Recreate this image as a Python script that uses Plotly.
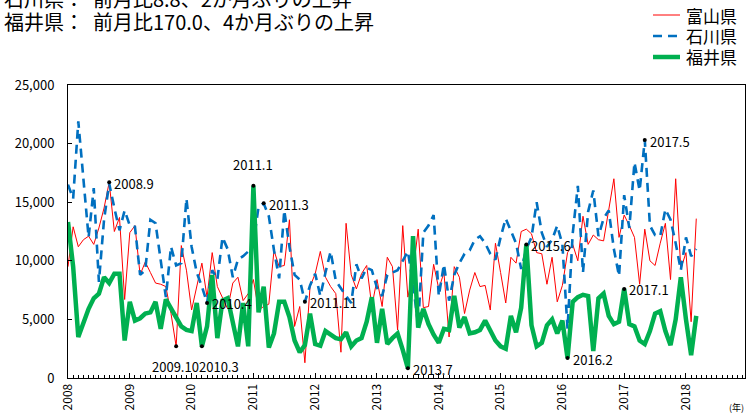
import plotly.graph_objects as go

# Monthly data, Jan 2008 .. Mar 2018 (123 months)
start_year = 2008
toyama = [9500, 12900, 11200, 11800, 12100, 11400, 12800, 14500, 16700, 12500, 13700, 6700,
          12400, 13000, 8800, 9900, 9000, 8100, 8000, 7800, 5500, 2700, 11300, 9200,
          5800, 7800, 9800, 6900, 10700, 7800, 6800, 5900, 8100, 8600, 6600, 7200,
          8400, 5800, 6100, 6300, 10900, 9500, 9600, 13500, 4400, 6100, 1300, 7800,
          8900, 10800, 8600, 7800, 7200, 2200, 13200, 8800, 7600, 8900, 9600, 6100,
          8400, 6100, 10300, 9500, 4100, 13000, 6900, 9000, 12700, 6000, 6100, 9700,
          7600, 9000, 3500, 9500, 8600, 5500, 7500, 9000, 7800, 7900, 5800, 11500,
          9000, 6400, 10300, 9800, 12500, 12700, 12300, 10700, 10600, 8000, 10300, 6500,
          7900, 10700, 11400, 10000, 13800, 11400, 12200, 11800, 11700, 14500, 17000, 12000,
          13900, 13000, 12000, 8000, 12700, 10000, 9600, 11500, 13200, 8400, 17000, 9300,
          10700, 4800, 13600]
ishikawa = [16500, 15300, 21900, 17000, 12000, 16200, 8200, 13500, 16600, 14500, 12600, 14300,
            13000, 12900, 8800, 9200, 13500, 13200, 9800, 6900, 11200, 9600, 9800, 15300,
            11200, 9000, 7800, 6400, 9200, 8400, 12000, 11000, 8600, 10100, 10400, 10800,
            11500, 14600, 14900, 13800, 10900, 8500, 14300, 11200, 8800, 8400, 6500, 7900,
            8900, 7000, 9000, 10800, 8300, 7600, 7000, 6400, 9700, 8500, 9400, 9200,
            7700, 7000, 8800, 9000, 9200, 10000, 10800, 8000, 4500, 12400, 13000, 13900,
            7000, 9700, 6600, 8800, 9800, 10600, 10900, 11800, 12100, 11500, 10600, 10100,
            12000, 13600, 12600, 11500, 9300, 11000, 12000, 15000, 12400, 11200, 11800, 13000,
            11400, 4200, 12300, 16400, 9000, 14200, 16000, 12100, 13600, 14300, 11000, 8700,
            15600, 12800, 18400, 16000, 20300, 13000, 12200, 12100, 14400, 13500, 11500, 9200,
            12000, 10400, 11000]
fukui = [13300, 9500, 3500, 4800, 5900, 6800, 7200, 8600, 8100, 8900, 8900, 3200,
         6500, 4900, 5100, 5500, 5600, 6500, 4200, 6700, 5900, 5100, 4400, 4100,
         4000, 6400, 2700, 4400, 8800, 3400, 6600, 6800, 4900, 2700, 6400, 2700,
         16400, 5600, 7800, 2600, 3800, 6500, 6500, 5200, 3200, 2200, 2800, 5500,
         2900, 2750, 4000, 3700, 3400, 3300, 3900, 2700, 3200, 3400, 4800, 6900,
         3000, 5900, 2900, 3400, 3800, 2400, 830, 12100, 4300, 5900, 4600, 3700,
         3000, 4200, 4100, 7000, 4300, 5200, 3800, 3900, 4100, 4900, 4000, 3200,
         2700, 2500, 5300, 3900, 6000, 11400, 4500, 2700, 3000, 4500, 5000, 3800,
         4900, 1700, 6500, 6900, 7100, 7000, 2300, 6800, 7200, 5300, 4600, 4800,
         7600, 4600, 4400, 3200, 2900, 4000, 5500, 5700, 4000, 2800, 5000, 8600,
         5000, 1950, 5300]

series_names = ["富山県", "石川県", "福井県"]
year_ticks = list(range(2008, 2019))
year_labels = [str(y) for y in year_ticks]

# Labelled points: (series index, month index, text, placement)
label_series = [0, 0, 2, 1, 2, 1, 1, 2, 2, 2, 2, 1]
label_index = [8, 21, 26, 27, 36, 38, 46, 66, 89, 97, 108, 112]
label_text = ["2008.9", "2009.10", "2010.3", "2010.4", "2011.1", "2011.3", "2011.11",
              "2013.7", "2015.6", "2016.2", "2017.1", "2017.5"]
label_place = ["right", "below", "belowright", "right", "above", "right", "right",
               "right", "right", "right", "right", "right"]

title_lines = ["石川県：  前月比8.8、2か月ぶりの上昇", "福井県：  前月比170.0、4か月ぶりの上昇"]

data = [toyama, ishikawa, fukui]
x = [start_year + i / 12 for i in range(len(toyama))]

FONT = "Noto Sans CJK JP"
W, H = 747, 415
L, R, T, B = 68, 2, 85, 37
PW, PH = W - L - R, H - T - B


def px_x(p):
    return (p - L) / PW


def px_y(p):
    return (H - B - p) / PH


fig = go.Figure()
styles = [
    dict(color="#FF0000", width=1),
    dict(color="#0070C0", width=2.6, dash="9px,6px"),
    dict(color="#00B050", width=4.5),
]
for name, vals, st in zip(series_names, data, styles):
    fig.add_trace(go.Scatter(x=x, y=vals, mode="lines", name=name, line=st, showlegend=False))

# dots
dx = [x[i] for i in label_index]
dy = [data[s][i] for s, i in zip(label_series, label_index)]
fig.add_trace(go.Scatter(x=dx, y=dy, mode="markers", marker=dict(color="black", size=4),
                         showlegend=False, hoverinfo="skip"))

for s, i, t, p in zip(label_series, label_index, label_text, label_place):
    a = dict(x=x[i], y=data[s][i], xref="x", yref="y", text=t, showarrow=False,
             font=dict(family=FONT, size=13, color="black"))
    if p == "right":
        a.update(xanchor="left", yanchor="middle", xshift=3, yshift=-1)
    elif p == "above":
        a.update(xanchor="center", yanchor="bottom", yshift=10)
    elif p == "below":
        a.update(xanchor="center", yanchor="top", yshift=-9, xshift=-1)
    elif p == "belowright":
        a.update(xanchor="left", yanchor="top", yshift=-9, xshift=-5)
    fig.add_annotation(**a)

# manual legend
leg_y = [15, 36, 57]
for name, st, yy in zip(series_names, styles, leg_y):
    ln = dict(color=st["color"], width=st["width"])
    if "dash" in st:
        ln["dash"] = st["dash"]
    fig.add_shape(type="line", xref="paper", yref="paper",
                  x0=px_x(653), x1=px_x(680), y0=px_y(yy), y1=px_y(yy), line=ln)
    fig.add_annotation(x=px_x(684), y=px_y(yy), xref="paper", yref="paper", text=name,
                       showarrow=False, xanchor="left", yanchor="middle",
                       font=dict(family=FONT, size=17, color="black"))

# titles
fig.add_annotation(x=px_x(2), y=px_y(-2), xref="paper", yref="paper", text=title_lines[0],
                   showarrow=False, xanchor="left", yanchor="middle",
                   font=dict(family=FONT, size=20, color="black"))
fig.add_annotation(x=px_x(2), y=px_y(22), xref="paper", yref="paper", text=title_lines[1],
                   showarrow=False, xanchor="left", yanchor="middle",
                   font=dict(family=FONT, size=20, color="black"))
fig.add_annotation(x=px_x(736), y=px_y(407), xref="paper", yref="paper", text="(年)",
                   showarrow=False, xanchor="center", yanchor="middle",
                   font=dict(family=FONT, size=9, color="black"))

fig.update_layout(
    width=W, height=H,
    margin=dict(l=L, r=R, t=T, b=B, autoexpand=False),
    paper_bgcolor="white", plot_bgcolor="white",
    font=dict(family=FONT, color="black"),
    showlegend=False,
)
fig.update_xaxes(range=[2008, 2018.955], tickvals=year_ticks, ticktext=year_labels,
                 tickangle=-90, ticks="inside", ticklen=5, tickcolor="black",
                 minor=dict(dtick=1 / 12, tick0=2008, ticks="inside", ticklen=3, tickcolor="black"),
                 showline=True, linecolor="black", linewidth=1, mirror=True,
                 showgrid=False, zeroline=False, automargin=False,
                 tickfont=dict(family=FONT, size=12, color="black"))
fig.update_yaxes(range=[0, 25000], tickvals=[0, 5000, 10000, 15000, 20000, 25000],
                 tickformat=",", ticks="inside", ticklen=4, tickcolor="black",
                 showline=True, linecolor="black", linewidth=1, mirror=True,
                 showgrid=False, zeroline=False, ticklabelstandoff=10, automargin=False,
                 tickfont=dict(family=FONT, size=13, color="black"))

fig.write_html("out.html", config={"displayModeBar": False},
               post_script="document.body.style.margin='0';document.body.style.padding='0';")
